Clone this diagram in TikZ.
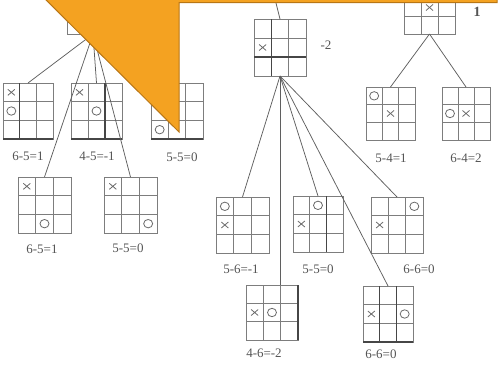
\documentclass[tikz,border=0pt]{standalone}
\usepackage{fontspec}
\setmainfont{Liberation Serif}
\usetikzlibrary{calc}
\definecolor{orangefill}{RGB}{244,162,33}
\definecolor{orangeedge}{RGB}{185,118,20}
\definecolor{gridc}{RGB}{125,125,125}
\definecolor{darkc}{RGB}{70,70,70}
\definecolor{linec}{RGB}{95,95,95}
\definecolor{markc}{RGB}{105,105,105}
\definecolor{txtc}{RGB}{85,85,85}
\tikzset{
 board/.style={draw=gridc, line width=1pt, inner sep=0pt, outer sep=0pt, anchor=north west},
 gridl/.style={draw=gridc, line width=1pt},
 darkl/.style={draw=darkc, line width=1.2pt},
 edge/.style={draw=linec, line width=0.75pt},
 mk/.style={draw=markc, line width=0.8pt},
 lab/.style={text=txtc, font=\fontsize{13}{13}\selectfont, inner sep=0pt},
 callout/.style={fill=orangefill, draw=orangeedge, line width=1pt, line join=miter},
}
\newcommand\tttb[5]{%
 \node[board, minimum width=#4pt, minimum height=#5pt] (#1) at (#2,#3) {};
 \draw[gridl] ($(#1.north west)!1/3!(#1.north east)$) -- ($(#1.south west)!1/3!(#1.south east)$)
   ($(#1.north west)!2/3!(#1.north east)$) -- ($(#1.south west)!2/3!(#1.south east)$)
   ($(#1.north west)!1/3!(#1.south west)$) -- ($(#1.north east)!1/3!(#1.south east)$)
   ($(#1.north west)!2/3!(#1.south west)$) -- ($(#1.north east)!2/3!(#1.south east)$);
}
\newcommand\cellpt[3]{%
 \coordinate (tmpa) at ($(#1.north west)!{(#3-0.5)/3}!(#1.north east)$);
 \coordinate (tmpb) at ($(#1.north west)!{(#2-0.5)/3}!(#1.south west)$);
}
\newcommand\putX[3]{\cellpt{#1}{#2}{#3}%
 \draw[mk] (tmpa |- tmpb) +(-3.5,-3) -- +(3.5,3) (tmpa |- tmpb) +(-3.5,3) -- +(3.5,-3);}
\newcommand\putO[3]{\cellpt{#1}{#2}{#3}%
 \draw[mk] (tmpa |- tmpb) ellipse[x radius=4.5, y radius=4.2];}
\newcommand\vdark[2]{\draw[darkl] ($(#1.north west)!#2!(#1.north east)$) -- ($(#1.south west)!#2!(#1.south east)$);}
\newcommand\hdark[2]{\draw[darkl] ($(#1.north west)!#2!(#1.south west)$) -- ($(#1.north east)!#2!(#1.south east)$);}
\begin{document}
\begin{tikzpicture}[x=1pt,y=-1pt]
\useasboundingbox (0,0) rectangle (499,367);
\clip (0,0) rectangle (499,367);
% left tree
\tttb{A}{67}{-21}{52}{55}
\tttb{B1}{3}{83}{50}{56}
\tttb{B2}{71}{83}{51}{56}
\tttb{B3}{151}{83}{52}{56}
\tttb{B4}{18}{177}{53}{56}
\tttb{B5}{104}{177}{53}{56}
\putX{B1}{1}{1}\putO{B1}{2}{1}
\putX{B2}{1}{1}\putO{B2}{2}{2}
\putO{B3}{3}{1}
\putX{B4}{1}{1}\putO{B4}{3}{2}
\putX{B5}{1}{1}\putO{B5}{3}{3}
\hdark{B1}{1}\vdark{B1}{0.3333}
\hdark{B2}{1}\vdark{B2}{0.6667}
\hdark{B3}{1}
\draw[edge] (A.south) -- (B1.north);
\draw[edge] (A.south) -- (B2.north);
\draw[edge] (A.south) -- (B3.north);
\draw[edge] (A.south) -- (B4.north);
\draw[edge] (A.south) -- (B5.north);
\node[lab] (lB1) at (28,156) {6-5=1};
\node[lab] (lB2) at (97,156) {4-5=-1};
\node[lab] (lB3) at (182,157) {5-5=0};
\node[lab] (lB4) at (42,249) {6-5=1};
\node[lab] (lB5) at (128,248) {5-5=0};
% middle tree
\tttb{C}{254}{19}{52}{57}
\putX{C}{2}{1}
\vdark{C}{0.3333}\hdark{C}{0.6667}
\coordinate (ctop) at (274,-5);
\draw[edge] (ctop) -- (C.north);
\node[lab] (lC) at (326,45) {-2};
\tttb{F1}{216}{197}{53}{56}
\tttb{F2}{246}{285}{52}{55}
\tttb{F3}{293}{196}{50}{56}
\tttb{F4}{371}{197}{52}{56}
\tttb{F5}{363}{286}{50}{56}
\putO{F1}{1}{1}\putX{F1}{2}{1}
\putX{F2}{2}{1}\putO{F2}{2}{2}
\putO{F3}{1}{2}\putX{F3}{2}{1}
\putO{F4}{1}{3}\putX{F4}{2}{1}
\putX{F5}{2}{1}\putO{F5}{2}{3}
\vdark{F2}{1}
\vdark{F3}{0.6667}
\hdark{F5}{1}\vdark{F5}{0.3333}\vdark{F5}{0.6667}
\draw[edge] (C.south) -- (F1.north);
\draw[edge] (C.south) -- (C.south |- F2.north);
\draw[edge] (C.south) -- (F3.north);
\draw[edge] (C.south) -- (F4.north);
\draw[edge] (C.south) -- (F5.north);
\node[lab] (lF1) at (241,269) {5-6=-1};
\node[lab] (lF2) at (264,353) {4-6=-2};
\node[lab] (lF3) at (318,269) {5-5=0};
\node[lab] (lF4) at (419,269) {6-6=0};
\node[lab] (lF5) at (381,354) {6-6=0};
% right tree
\tttb{D}{404}{-19}{51}{53}
\putX{D}{2}{2}
\tttb{E1}{366}{87}{49}{53}
\tttb{E2}{442}{87}{48}{53}
\putO{E1}{1}{1}\putX{E1}{2}{2}
\putO{E2}{2}{1}\putX{E2}{2}{2}
\draw[edge] (D.south) -- (E1.north);
\draw[edge] (D.south) -- (E2.north);
\node[lab,font=\fontsize{14}{14}\selectfont\bfseries] (lD) at (477,12) {1};
\node[lab] (lE1) at (391,158) {5-4=1};
\node[lab] (lE2) at (466,158) {6-4=2};
% orange callout on top
\draw[callout] (40,-6) -- (179,132) -- (179,2.5) -- (497,2.5) -- (497,-8) -- cycle;
\end{tikzpicture}
\end{document}
